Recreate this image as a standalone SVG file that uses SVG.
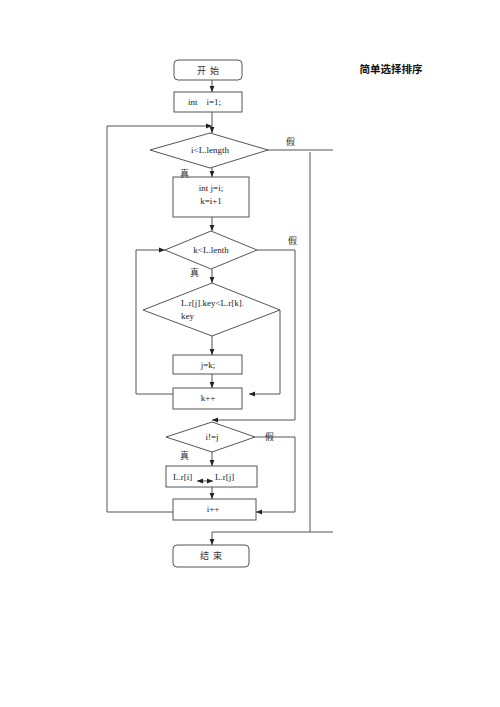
<svg xmlns="http://www.w3.org/2000/svg" width="500" height="707" viewBox="0 0 500 707">
<defs>
<marker id="ah" viewBox="0 0 10 10" refX="10" refY="5" markerWidth="6" markerHeight="6" orient="auto" markerUnits="userSpaceOnUse">
<path d="M0,1 L10,5 L0,9 z" fill="#222"/>
</marker>
<marker id="ahs" viewBox="0 0 10 10" refX="0" refY="5" markerWidth="6" markerHeight="6" orient="auto" markerUnits="userSpaceOnUse">
<path d="M10,1 L0,5 L10,9 z" fill="#222"/>
</marker>
</defs>
<style>
.n{fill:#fff;stroke:#555;stroke-width:1}
.c{fill:none;stroke:#555;stroke-width:1}
.t{font-family:"Liberation Serif","Noto Sans CJK SC",serif;font-size:9px;fill:#222}
.m{text-anchor:middle}
.z{font-family:"Noto Sans CJK SC",serif;font-size:9px;fill:#333}
</style>
<rect width="500" height="707" fill="#fff"/>
<text x="391" y="73" font-family="Noto Sans CJK SC,sans-serif" font-size="10.5" font-weight="bold" text-anchor="middle" fill="#111">简单选择排序</text>
<g id="start"><rect class="n" x="174" y="60" width="68" height="20" rx="4"/><text class="z m" x="208" y="73.5" text-anchor="middle" xml:space="preserve">开  始</text></g>
<g id="init"><rect class="n" x="174" y="92" width="68" height="20"/><text class="t" x="188" y="105" xml:space="preserve">int    i=1;</text></g>
<g id="cond1"><polygon class="n" points="150,150 210,133 268,150 210,168"/><text class="t m" x="210" y="153" text-anchor="middle">i&lt;L.length</text></g>
<g id="initjk"><rect class="n" x="173" y="177" width="76" height="40"/><text class="t m" x="211" y="191" text-anchor="middle">int j=i;</text><text class="t m" x="211" y="204" text-anchor="middle">k=i+1</text></g>
<g id="cond2"><polygon class="n" points="165,250 211,231 257,250 211,269"/><text class="t m" x="211" y="253" text-anchor="middle">k&lt;L.lenth</text></g>
<g id="cond3"><polygon class="n" points="143,310 212,283 280,310 212,336"/><text class="t" x="181" y="306">L.r[j].key&lt;L.r[k].</text><text class="t" x="181" y="319">key</text></g>
<g id="jk"><rect class="n" x="173" y="355" width="69" height="19"/><text class="t m" x="208" y="368" text-anchor="middle">j=k;</text></g>
<g id="kinc"><rect class="n" x="173" y="388" width="69" height="21"/><text class="t m" x="208" y="401" text-anchor="middle">k++</text></g>
<g id="cond4"><polygon class="n" points="166,437 212,422 255,437 212,452"/><text class="t m" x="212" y="440" text-anchor="middle">i!=j</text></g>
<g id="swap"><rect class="n" x="166" y="466" width="91" height="21"/><text class="t" x="173" y="480">L.r[i]</text><text class="t" x="215" y="480">L.r[j]</text></g>
<g id="iinc"><rect class="n" x="173" y="499" width="83" height="21"/><text class="t m" x="213" y="512" text-anchor="middle">i++</text></g>
<g id="end"><rect class="n" x="173" y="545" width="76" height="22" rx="4"/><text class="z m" x="211" y="559" text-anchor="middle" xml:space="preserve">结  束</text></g>
<g id="connectors">
<path class="c" d="M212,80 V92" marker-end="url(#ah)"/>
<path class="c" d="M212,112 V133" marker-end="url(#ah)"/>
<path class="c" d="M107,512 V126 H212" marker-end="url(#ah)"/>
<path class="c" d="M212,168 V177" marker-end="url(#ah)"/>
<path class="c" d="M267,150 H333"/>
<path class="c" d="M310,152 V532"/>
<path class="c" d="M333,532 H212 V545" marker-end="url(#ah)"/>
<path class="c" d="M212,217 V231" marker-end="url(#ah)"/>
<path class="c" d="M212,269 V283" marker-end="url(#ah)"/>
<path class="c" d="M173,394 H136 V250 H165" marker-end="url(#ah)"/>
<path class="c" d="M257,250 H295 V420 H212" marker-end="url(#ah)"/>
<path class="c" d="M212,336 V355" marker-end="url(#ah)"/>
<path class="c" d="M212,374 V388" marker-end="url(#ah)"/>
<path class="c" d="M280,310 V394 H249" marker-end="url(#ah)"/>
<path class="c" d="M212,452 V466" marker-end="url(#ah)"/>
<path class="c" d="M212,487 V499" marker-end="url(#ah)"/>
<path class="c" d="M255,437 H295 V512 H256" marker-end="url(#ah)"/>
<path class="c" d="M173,512 H107"/>
<path class="c" d="M197,481 H213" marker-start="url(#ahs)" marker-end="url(#ah)"/>
<text class="z" x="286" y="145">假</text>
<text class="z" x="180" y="177">真</text>
<text class="z" x="288" y="244">假</text>
<text class="z" x="190" y="276">真</text>
<text class="z" x="265" y="440">假</text>
<text class="z" x="180" y="459">真</text>
</g>
</svg>
